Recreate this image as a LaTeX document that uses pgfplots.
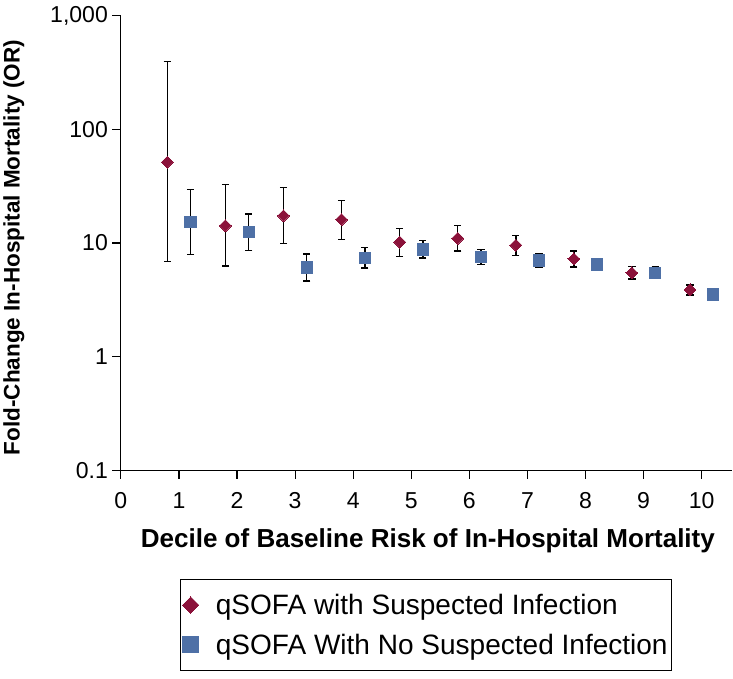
\documentclass[border=0pt]{standalone}
\usepackage{pgfplots}
\pgfplotsset{compat=1.18}
\usepackage{fontspec}
\setmainfont{Liberation Sans}
\definecolor{redm}{RGB}{139,18,58}
\definecolor{bluem}{RGB}{78,112,166}
\begin{document}
\begin{tikzpicture}
\begin{axis}[
  scale only axis,
  width=611pt, height=454pt,
  xmin=0, xmax=10.53,
  ymode=log, ymin=0.1, ymax=1000,
  axis lines=left,
  axis line style={-, line width=1.2pt},
  tick style={line width=1.2pt, black},
  tick align=outside,
  major tick length=8.5pt,
  xtick={0,1,2,3,4,5,6,7,8,9,10},
  ytick={0.1,1,10,100,1000},
  yticklabels={0.1,1,10,100,{1,000}},
  minor ytick={},
  yminorticks=false,
  tick label style={font=\fontsize{23}{27}\selectfont},
  xticklabel style={yshift=-10pt},
  yticklabel style={xshift=-1pt},
  /pgf/number format/assume math mode=true,
  xlabel={\textbf{Decile of Baseline Risk of In-Hospital Mortality}},
  ylabel={\textbf{Fold-Change In-Hospital Mortality (OR)}},
  xlabel style={font=\fontsize{26}{30}\selectfont, at={(axis description cs:0.502,-0.156)}, anchor=center},
  ylabel style={font=\fontsize{22.5}{27}\selectfont, at={(axis description cs:-0.175,0.49)}, anchor=center, rotate=0},
  legend style={at={(0.499,-0.24)}, anchor=north, draw=black, line width=0.8pt,
    font=\fontsize{28}{33}\selectfont, row sep=14pt, inner xsep=2pt, inner ysep=12.5pt,
    /tikz/every odd column/.append style={column sep=15pt}},
  legend cell align=left,
]
\addplot+[only marks, mark=square*, mark options={rotate=45, fill=redm, draw=redm, line width=0pt}, mark size=4.2pt,
  legend image post style={mark size=5.8pt},
  error bars/.cd, y dir=both, y explicit,
  error bar style={black, line width=1.5pt},
  error mark options={rotate=90, black, mark size=3.6pt, line width=1.5pt}]
table[x=x, y=y, y error plus=ep, y error minus=em] {
x    y     ep     em
0.8  51.5  343.5  44.6
1.8  14.2  18.4   7.9
2.8  17.4  13.4   7.5
3.8  16.1  7.7    5.4
4.8  10.2  3.2    2.55
5.8  11.0  3.3    2.47
6.8  9.57  2.13   1.81
7.8  7.26  1.21   1.09
8.8  5.46  0.78   0.66
9.8  3.87  0.41   0.37
};
\addlegendentry{qSOFA with Suspected Infection}
\addplot+[only marks, mark=square*, mark options={fill=bluem, draw=bluem, line width=0pt}, mark size=5.6pt,
  legend image post style={mark size=8pt},
  error bars/.cd, y dir=both, y explicit,
  error bar style={black, line width=1.5pt},
  error mark options={rotate=90, black, mark size=3.6pt, line width=1.5pt}]
table[x=x, y=y, y error plus=ep, y error minus=em] {
x     y     ep     em
1.2   15.3  14.3   7.38
2.2   12.6  5.5    4.0
3.2   6.08  1.89   1.44
4.2   7.41  1.71   1.41
5.2   8.77  1.73   1.42
6.2   7.5   1.27   1.03
7.2   7.01  1.02   0.84
8.2   6.47  0.79   0.75
9.2   5.49  0.71   0.63
10.2  3.52  0.43   0.41
};
\addlegendentry{qSOFA With No Suspected Infection}
\end{axis}
\path ([yshift=-8pt]current bounding box.south);
\path ([yshift=3pt]current bounding box.north);
\end{tikzpicture}
\end{document}
